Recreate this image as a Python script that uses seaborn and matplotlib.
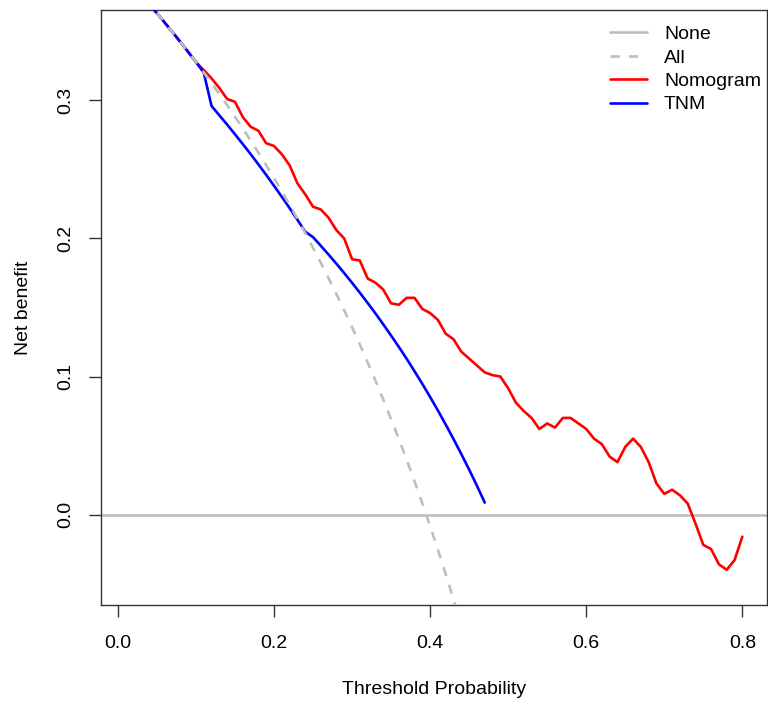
import numpy as np
import pandas as pd
import matplotlib
matplotlib.use("Agg")
import matplotlib.pyplot as plt
import seaborn as sns

# threshold grids (step 0.01)
thr_all = np.round(np.arange(3, 45) / 100, 2)
thr_tnm = np.round(np.arange(3, 48) / 100, 2)
thr_nomo = np.round(np.arange(3, 81) / 100, 2)

# net benefit
nb_all = [0.3763, 0.3698, 0.3632, 0.3564, 0.3495, 0.3424, 0.3352, 0.3278, 0.3202, 0.3125,
          0.3046, 0.2965, 0.2882, 0.2798, 0.2711, 0.2622, 0.2531, 0.2438, 0.2342, 0.2244,
          0.2143, 0.2039, 0.1933, 0.1824, 0.1712, 0.1597, 0.1479, 0.1357, 0.1232, 0.1103,
          0.0970, 0.0833, 0.0692, 0.0547, 0.0397, 0.0242, 0.0082, -0.0083, -0.0254, -0.0431,
          -0.0614, -0.0804]

nb_tnm = [0.3763, 0.3698, 0.3632, 0.3564, 0.3495, 0.3424, 0.3352, 0.3278, 0.3202, 0.296,
          0.2892, 0.2825, 0.2755, 0.2684, 0.2612, 0.2537, 0.2461, 0.2382, 0.2302, 0.2220,
          0.2136, 0.2049, 0.2010, 0.1947, 0.1883, 0.1817, 0.1749, 0.1679, 0.1607, 0.1533,
          0.1457, 0.1378, 0.1297, 0.1214, 0.1128, 0.1039, 0.0947, 0.0852, 0.0754, 0.0652,
          0.0547, 0.0438, 0.0326, 0.0209, 0.0087]

nb_nomo = [0.3763, 0.3698, 0.3632, 0.3564, 0.3495, 0.3424, 0.3352, 0.3278, 0.322, 0.316,
           0.309, 0.301, 0.299, 0.288, 0.281, 0.278, 0.269, 0.267, 0.261, 0.253,
           0.240, 0.232, 0.223, 0.221, 0.215, 0.206, 0.200, 0.185, 0.184, 0.171,
           0.168, 0.163, 0.153, 0.152, 0.157, 0.157, 0.149, 0.146, 0.141, 0.131,
           0.127, 0.118, 0.113, 0.108, 0.103, 0.101, 0.100, 0.0915, 0.081, 0.075,
           0.070, 0.062, 0.066, 0.063, 0.070, 0.070, 0.066, 0.062, 0.055, 0.051,
           0.042, 0.038, 0.049, 0.055, 0.049, 0.038, 0.0225, 0.015, 0.018, 0.014,
           0.008, -0.0065, -0.022, -0.025, -0.036, -0.040, -0.033, -0.016]

sns.set_style("white")
plt.rcParams['font.family'] = ['Liberation Sans', 'DejaVu Sans']
plt.rcParams['font.size'] = 14
plt.rcParams['text.color'] = 'black'
plt.rcParams['axes.labelcolor'] = 'black'
plt.rcParams['xtick.color'] = 'black'
plt.rcParams['ytick.color'] = 'black'

fig = plt.figure(figsize=(7.68, 7.02), dpi=100)
ax = fig.add_axes([101 / 768, 1 - 605 / 702, 666 / 768, 595 / 702])

lw = 1.9
ax.axhline(0, color="#BEBEBE", lw=lw, zorder=1, label="None")
sns.lineplot(x=thr_nomo, y=nb_nomo, ax=ax, color="#FF0000", lw=lw, zorder=2, label="Nomogram")
sns.lineplot(x=thr_tnm, y=nb_tnm, ax=ax, color="#0000FF", lw=lw, zorder=3, label="TNM")
sns.lineplot(x=thr_all, y=nb_all, ax=ax, color="#BEBEBE", lw=lw, zorder=4, label="All")
ax.lines[-1].set_dashes((3.5, 3.5))

ax.set_xlim(-0.0216, 0.8316)
ax.set_ylim(-0.0655, 0.3655)
ax.set_xticks([0.0, 0.2, 0.4, 0.6, 0.8])
ax.set_yticks([0.0, 0.1, 0.2, 0.3])
ax.set_xticklabels(["0.0", "0.2", "0.4", "0.6", "0.8"])
ax.set_yticklabels(["0.0", "0.1", "0.2", "0.3"], rotation=90, va="center")
ax.tick_params(axis="both", direction="out", length=8.5, width=1, color="#333333",
               labelsize=14, left=True, bottom=True)
ax.tick_params(axis="x", pad=13)
ax.tick_params(axis="y", pad=11)
for s in ax.spines.values():
    s.set_color("#333333")
    s.set_linewidth(1)

ax.set_xlabel("Threshold Probability", fontsize=14, labelpad=21)
ax.set_ylabel("Net benefit", fontsize=14, labelpad=18)

h, l = ax.get_legend_handles_labels()
order = ["None", "All", "Nomogram", "TNM"]
hd = dict(zip(l, h))
ax.legend([hd[k] for k in order], order, loc="upper left", bbox_to_anchor=(0.765, 0.974),
          frameon=False, fontsize=14, handlelength=1.9, handletextpad=0.85,
          labelspacing=0.3, borderpad=0, borderaxespad=0)

fig.savefig("out.png", dpi=100)
